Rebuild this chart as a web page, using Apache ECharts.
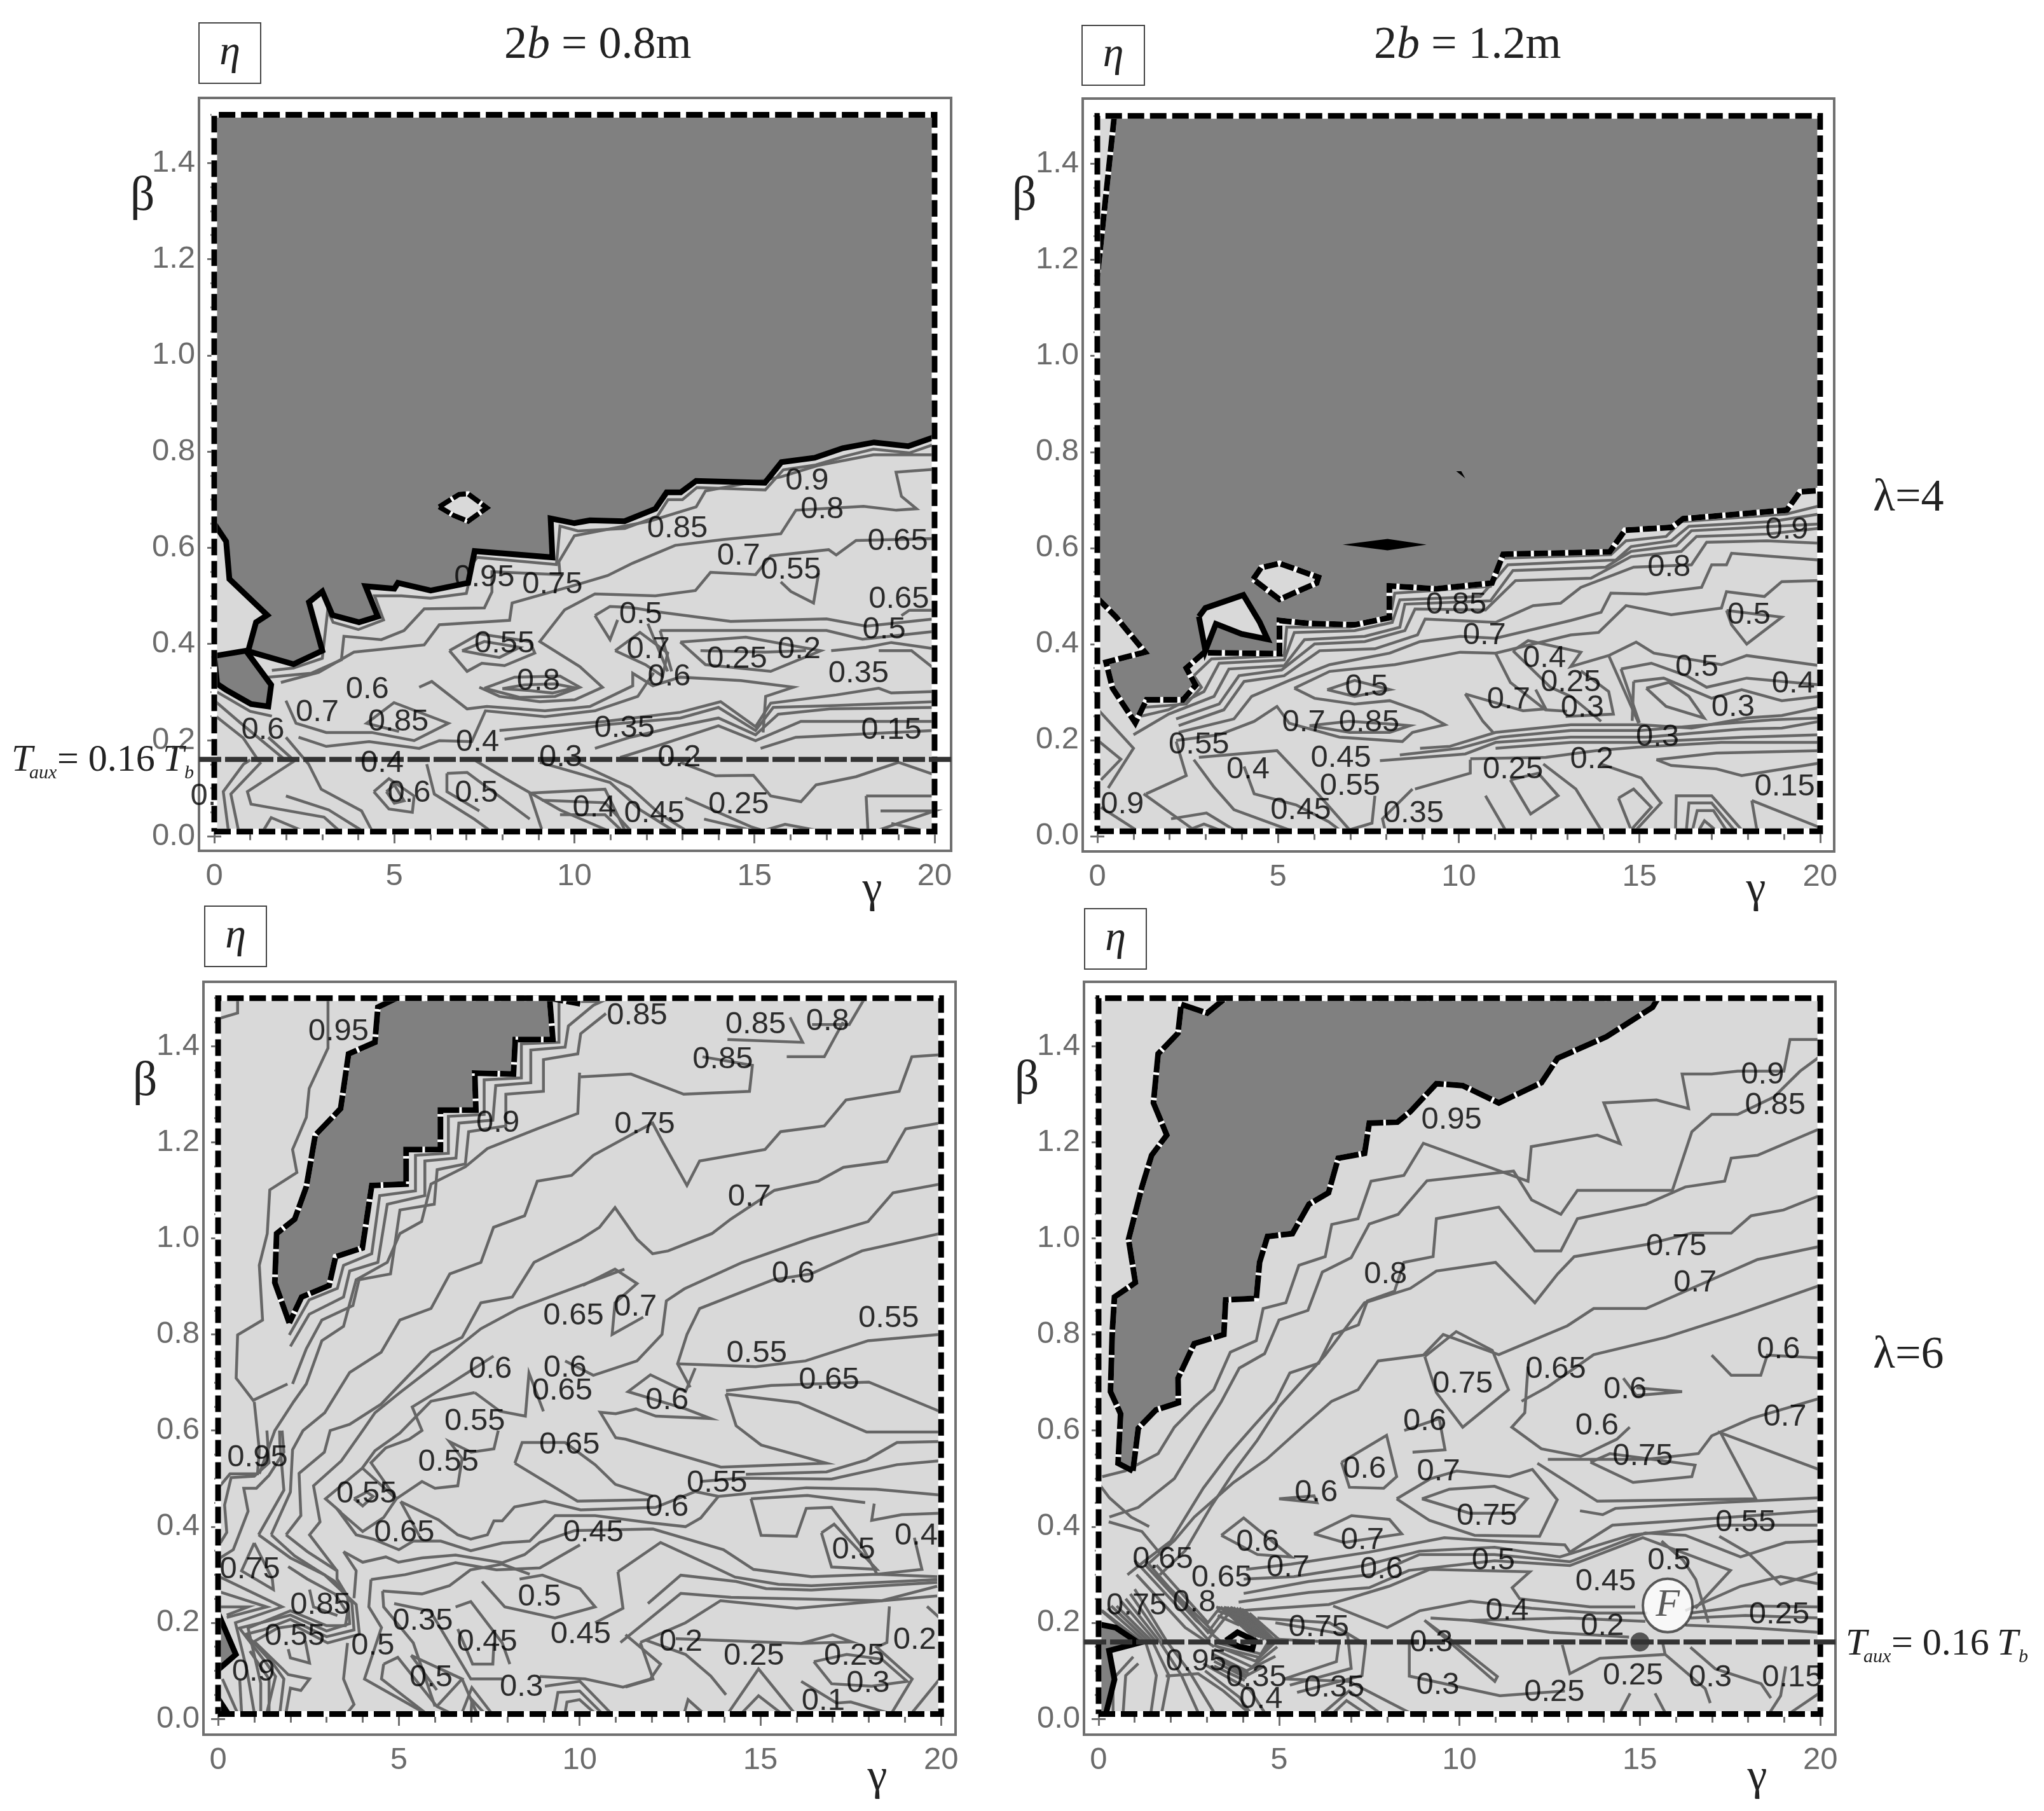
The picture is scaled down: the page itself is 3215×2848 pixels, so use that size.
<!DOCTYPE html>
<html>
<head>
<meta charset="utf-8">
<title>eta contours</title>
<script src="https://cdn.jsdelivr.net/npm/echarts@6/dist/echarts.min.js"></script>
<style>
html,body{margin:0;padding:0;background:#fff}
#main{width:3215px;height:2848px}
</style>
</head>
<body>
<div id="main"></div>
<script>
// axis ticks
const gammaMajor = [0,5,10,15,20];
const gammaMinor = [0,1,2,3,4,5,6,7,8,9,10,11,12,13,14,15,16,17,18,19,20];
const betaMajor = [0,0.2,0.4,0.6,0.8,1.0,1.2,1.4];
const betaMinor = [0,0.05,0.1,0.15,0.2,0.25,0.3,0.35,0.4,0.45,0.5,0.55,0.6,0.65,0.7,0.75,0.8,0.85,0.9,0.95,1,1.05,1.1,1.15,1.2,1.25,1.3,1.35,1.4,1.45,1.5];
const domainBox = [[0,0.01],[20,0.01],[20,1.5],[0,1.5],[0,0.01]];
const tauxLevel = 0.16;
const pointF = [15,0.16];
const labelF = [15.77,0.236];

// 2b=0.8m, lambda=4
const p1Edge = [[0,0.65],[0.33,0.613],[0.42,0.535],[1.47,0.46],[1.16,0.445],[0.94,0.385],[2.2,0.358],[3,0.386],[2.63,0.487],[3,0.509],[3.28,0.46],[4.02,0.445],[4.54,0.457],[4.2,0.52],[5,0.515],[5.1,0.527],[6.01,0.511],[7.05,0.527],[7.23,0.593],[9.39,0.58],[9.34,0.661],[10,0.651],[10.43,0.657],[11.39,0.655],[12.25,0.681],[12.56,0.715],[12.95,0.715],[13.38,0.739],[15.29,0.735],[15.75,0.778],[16.67,0.787],[17.45,0.807],[18.32,0.819],[19.27,0.811],[20,0.83]];
const p1Dark = p1Edge.concat([[20,1.5],[0,1.5]]);
const p1Blob = [[0,0.375],[0.88,0.386],[1.58,0.315],[1.5,0.27],[1.02,0.275],[0.32,0.305],[0.08,0.317]];
const p1Isle = [[6.24,0.685],[6.8,0.711],[7.05,0.712],[7.57,0.683],[7.05,0.655],[6.65,0.667],[6.24,0.685]];
const p1Contours = [
[[1.6,0.345],[2.2,0.35],[3,0.37],[3.15,0.47],[3.3,0.445],[4,0.43],[4.7,0.45],[4.45,0.5],[5.2,0.5],[6,0.495],[7,0.505],[7.2,0.57],[7.3,0.58],[9.5,0.565],[9.6,0.645],[10.1,0.635],[11.4,0.64],[12.3,0.665],[12.6,0.7],[13,0.7],[13.4,0.725],[15.3,0.72],[15.8,0.762],[16.7,0.772],[17.5,0.79],[18.3,0.805],[19.3,0.797],[20,0.815]],
[[1.5,0.331],[2.69,0.339],[3.53,0.367],[3.6,0.416],[4.64,0.409],[5.27,0.428],[5.83,0.473],[7.5,0.475],[7.71,0.508],[7.71,0.55],[9.6,0.544],[9.57,0.571],[10,0.625],[12.08,0.655],[13.38,0.685],[13.64,0.718],[15.72,0.747],[16.76,0.771],[18.3,0.793],[20,0.793]],
[[1.85,0.32],[2.9,0.341],[3.88,0.383],[5.83,0.398],[6.25,0.44],[8.2,0.449],[8.27,0.485],[10.15,0.525],[10.92,0.542],[11.62,0.568],[12.8,0.605],[14.13,0.617],[15.73,0.629],[16.15,0.678],[18.03,0.686],[18.94,0.678],[19.5,0.681],[19.08,0.707],[18.93,0.757],[20,0.763]],
[[20,0.619],[17.82,0.615],[17.27,0.585],[17.06,0.596],[15.45,0.583],[15.03,0.544],[13.78,0.549],[13.36,0.511],[12.25,0.5],[10.57,0.504],[9.73,0.471],[9.04,0.405],[10.15,0.353],[10.78,0.31],[10.01,0.284],[9.04,0.28],[7.92,0.291],[7.36,0.31]],
[[5.69,0.31],[6.04,0.322],[7.02,0.265],[7.57,0.27],[9.18,0.261],[10.43,0.27],[11.62,0.313],[11.62,0.339],[12.18,0.313],[12.94,0.331],[14.62,0.324],[16.08,0.31],[15.31,0.291],[15.24,0.216]],
[[8,0.307],[8.62,0.315],[9.46,0.317],[10,0.309],[9.39,0.298],[8.76,0.303],[8,0.307]],
[[7.5,0.308],[8.34,0.331],[9.6,0.333],[10.15,0.31],[9.46,0.291],[8.48,0.289],[7.5,0.308]],
[[6.53,0.386],[7.36,0.421],[8.76,0.405],[8.9,0.381],[8.06,0.355],[7.43,0.36],[7.02,0.343],[6.53,0.386]],
[[6.88,0.386],[7.5,0.405],[8.48,0.393],[7.92,0.372],[7.36,0.379],[6.88,0.386]],
[[7.92,0.22],[10.85,0.239],[12.94,0.258],[14.06,0.28],[15.03,0.228],[15.45,0.277],[17.27,0.294],[18.45,0.308],[18.8,0.298],[20,0.301]],
[[8.06,0.202],[10.85,0.232],[12.94,0.246],[14,0.268],[15.03,0.22],[15.52,0.268],[17.27,0.272],[20,0.28]],
[[10.57,0.183],[11.55,0.206],[12.94,0.23],[14,0.246],[15.03,0.211],[15.66,0.254],[17.1,0.265],[20,0.268]],
[[11.27,0.164],[12.25,0.187],[14,0.23],[15.03,0.199],[16.29,0.239],[17.13,0.239],[20,0.239]],
[[15.17,0.183],[16.15,0.206],[20,0.22]],
[[12.94,0.154],[13.92,0.126],[14.97,0.127],[15.45,0.084],[16.29,0.072],[16.71,0.107],[17.82,0.124],[19,0.154],[20,0.128]],
[[9.04,0.154],[10.99,0.112],[11.83,0.055],[12.73,0.013]],
[[10.15,0.15],[11.55,0.102],[12.38,0.046],[13.08,0.013]],
[[2.34,0.206],[3.11,0.187],[4.3,0.197],[5.69,0.183],[6.25,0.199],[7.15,0.197],[7.53,0.261],[9.18,0.249],[10.57,0.261],[11.76,0.291],[12.2,0.34]],
[[1.99,0.282],[2.27,0.235],[3.11,0.216],[4.37,0.216],[5.55,0.199],[6.5,0.235],[4.99,0.278],[4.23,0.235],[5.13,0.218]],
[[1.99,0.206],[2.62,0.15],[2.97,0.098],[4.09,0.053],[4.37,0.013]],
[[1.5,0.206],[2.23,0.157],[0.92,0.093],[1.02,0.067],[3.05,0.04],[3.45,0.013]],
[[1.99,0.084],[3.18,0.055],[4.08,0.013]],
[[0.39,0.013],[0.25,0.093],[0.81,0.15],[1,0.159]],
[[0.67,0.013],[0.46,0.088],[1.3,0.154]],
[[1.37,0.013],[1.58,0.039],[2.41,0.013]],
[[0.04,0.25],[0.8,0.205],[1.25,0.155]],
[[0.04,0.28],[0.74,0.235],[2,0.157]],
[[0.08,0.3],[1,0.26],[1.6,0.25]],
[[4.43,0.093],[4.85,0.12],[5.55,0.084],[5.5,0.05],[4.85,0.057],[4.43,0.093]],
[[4.78,0.093],[5,0.107],[5.27,0.074],[5,0.069],[4.78,0.093]],
[[5.9,0.15],[6.11,0.088],[7.22,0.036],[7.64,0.013]],
[[6.46,0.131],[7.02,0.133],[8.76,0.036]],
[[6.46,0.131],[6.46,0.093],[7.36,0.053]],
[[7.22,0.159],[8.06,0.121],[9.6,0.055],[10.9,0.013]],
[[8.76,0.09],[10.85,0.098],[11.4,0.013]],
[[9.1,0.013],[8.76,0.09]],
[[9.1,0.075],[10.85,0.07],[11.55,0.013]],
[[9.6,0.045],[10.85,0.045],[11.3,0.013]],
[[13.08,0.08],[14.9,0.02],[15.2,0.013]],
[[13.6,0.036],[14.9,0.013]],
[[15.3,0.013],[15.85,0.025],[16.7,0.013]],
[[18.1,0.084],[20,0.084]],
[[18.1,0.084],[18.15,0.013]],
[[18.5,0.053],[20,0.053],[18.45,0.013]],
[[18.8,0.027],[19.64,0.013]],
[[12.38,0.466],[14.34,0.447],[17,0.452],[18.1,0.437],[20,0.452]],
[[12.38,0.428],[14.34,0.428],[17,0.428],[18,0.41],[20,0.426]],
[[12.94,0.404],[14.76,0.414],[16.84,0.386],[15.45,0.343],[13.64,0.357],[12.94,0.404]],
[[13.5,0.386],[15.3,0.383],[16.43,0.386]],
[[17.13,0.386],[18.1,0.393],[18.8,0.403],[20,0.39]],
[[18.45,0.386],[19.36,0.386],[20,0.348]],
[[11.13,0.386],[11.82,0.424],[12.59,0.381],[12.45,0.333],[11.97,0.357],[11.13,0.386]],
[[10.57,0.459],[10.99,0.478],[11.55,0.476],[12.38,0.466]],
[[10.57,0.459],[10.99,0.409],[11.2,0.45]],
[[12.04,0.442],[12.59,0.343]],
[[12.38,0.428],[12.7,0.343]],
[[15.73,0.529],[16.01,0.509],[16.64,0.485],[16.78,0.547]],
[[19.08,0.459],[19.3,0.47],[20,0.47]]
];
const p1Labels = [[16.46,0.739,'0.9'],[16.88,0.679,'0.8'],[12.86,0.64,'0.85'],[18.98,0.613,'0.65'],[14.56,0.583,'0.7'],[16.01,0.553,'0.55'],[7.5,0.538,'0.95'],[9.39,0.523,'0.75'],[19.01,0.493,'0.65'],[11.84,0.461,'0.5'],[18.6,0.43,'0.5'],[8.06,0.4,'0.55'],[12.05,0.388,'0.7'],[14.51,0.368,'0.25'],[16.24,0.389,'0.2'],[17.89,0.338,'0.35'],[12.63,0.332,'0.6'],[9,0.322,'0.8'],[4.25,0.305,'0.6'],[2.86,0.257,'0.7'],[5.11,0.238,'0.85'],[1.35,0.22,'0.6'],[11.39,0.224,'0.35'],[18.8,0.22,'0.15'],[7.31,0.196,'0.4'],[9.62,0.164,'0.3'],[12.91,0.164,'0.2'],[4.66,0.152,'0.4'],[5.41,0.089,'0.6'],[7.28,0.089,'0.5'],[14.56,0.066,'0.25'],[10.55,0.059,'0.4'],[12.22,0.047,'0.45'],[-0.3,0.083,'0.']];

// 2b=1.2m, lambda=4
const p2Edge = [[0,0.496],[0.51,0.457],[1.32,0.383],[0.24,0.362],[0.42,0.308],[1.05,0.236],[1.36,0.284],[2.37,0.284],[2.72,0.314],[2.46,0.35],[2.95,0.382],[5.04,0.38],[5.04,0.449],[5.85,0.443],[7.12,0.44],[8.08,0.455],[8.08,0.521],[9.38,0.515],[10.92,0.527],[11.23,0.587],[14.18,0.592],[14.6,0.637],[15.9,0.643],[16.21,0.661],[19.08,0.679],[19.44,0.717],[20,0.72]];
const p2Dark = p2Edge.concat([[20,1.5],[0.47,1.5],[0,1.165]]);
const p2Sliver = [[0.47,1.5],[0,1.165]];
const p2IsleA = [[4.31,0.535],[4.53,0.559],[5.04,0.568],[6.12,0.539],[6.07,0.527],[5.04,0.493],[4.31,0.535]];
const p2IsleB = [[2.81,0.457],[2.99,0.475],[4.04,0.502],[4.49,0.446],[4.71,0.41],[3.99,0.421],[3.28,0.442],[2.99,0.386],[2.81,0.457]];
const p2SpotA = [[6.79,0.607],[8.03,0.619],[9.11,0.607],[8.03,0.595]];
const p2SpotB = [[9.93,0.76],[10.07,0.76],[10.18,0.745]];
const p2Contours = [
[[1.28,0.268],[2.46,0.275],[2.88,0.31],[2.67,0.334],[3.16,0.369],[5.17,0.376],[5.24,0.435],[6.98,0.435],[8.09,0.452],[8.23,0.506],[9.21,0.511],[10.88,0.52],[11.22,0.579],[14.21,0.586],[14.63,0.615],[15.74,0.624],[16.16,0.655],[19.08,0.671],[19.99,0.688]],
[[1,0.246],[1.97,0.263],[2.95,0.301],[3.37,0.36],[5.17,0.367],[5.45,0.424],[7.12,0.428],[8.16,0.445],[8.37,0.492],[10.6,0.499],[11.36,0.565],[14.35,0.575],[14.77,0.603],[15.88,0.615],[16.37,0.645],[18.66,0.655],[19.99,0.671]],
[[1,0.211],[1.97,0.254],[3.23,0.291],[3.64,0.348],[5.17,0.355],[5.73,0.409],[7.4,0.416],[8.37,0.435],[8.51,0.483],[10.88,0.49],[11.5,0.553],[14.07,0.56],[14.77,0.593],[16.02,0.605],[16.44,0.636],[19.99,0.65]],
[[2.18,0.244],[3.37,0.275],[3.92,0.334],[5.1,0.346],[6.01,0.4],[7.4,0.405],[8.51,0.428],[8.79,0.473],[10.74,0.471],[11.57,0.532],[13.66,0.537],[14.77,0.582],[16.16,0.593],[16.58,0.624],[18.53,0.629],[19.99,0.641]],
[[2.25,0.23],[3.5,0.263],[4.06,0.322],[5.17,0.334],[6.15,0.386],[7.68,0.39],[8.86,0.419],[9.07,0.452],[11.02,0.445],[12.06,0.48],[12.82,0.485],[13.38,0.518],[14.84,0.56],[16.44,0.565],[16.86,0.612],[18.53,0.615],[19.99,0.61]],
[[2.25,0.216],[3.78,0.244],[4.27,0.291],[5.31,0.324],[6.43,0.357],[8.09,0.381],[8.93,0.405],[10.04,0.416],[11.02,0.412],[13.1,0.449],[13.94,0.466],[14.21,0.506],[15.19,0.504],[16.72,0.518],[17,0.565],[17.41,0.565],[17.55,0.589],[18.39,0.584],[19.99,0.575]],
[[5.45,0.308],[6.43,0.343],[8.23,0.357],[10.04,0.383],[11.02,0.381],[13.1,0.419],[13.87,0.424],[14.63,0.48],[15.88,0.461],[17.27,0.475],[17.41,0.509],[18.46,0.499],[18.94,0.53],[19.99,0.532]],
[[5.45,0.308],[6.01,0.287],[7.12,0.275],[8.09,0.282],[9,0.258],[9.62,0.232],[8.72,0.216],[8.44,0.197],[6.7,0.206],[5.31,0.235],[4.97,0.27],[4.34,0.239],[3.37,0.211],[2.18,0.199]],
[[6.36,0.305],[7.12,0.324],[8.09,0.305],[7.12,0.291],[6.36,0.305]],
[[5.87,0.23],[6.98,0.239],[8.37,0.232],[8.65,0.23],[8.09,0.216],[6.98,0.216],[5.87,0.23]],
[[10.18,0.296],[10.67,0.239],[10.95,0.216]],
[[8.93,0.183],[9.76,0.187],[11.02,0.216],[13.1,0.232],[15.05,0.232],[16.44,0.225],[17.97,0.246],[18.94,0.251],[19.99,0.268]],
[[8.37,0.169],[10.04,0.183],[11.15,0.206],[13.1,0.22],[15.05,0.22],[16.58,0.23],[18.66,0.242],[19.99,0.246]],
[[7.82,0.157],[10.18,0.171],[11.02,0.195],[13.1,0.206],[15.19,0.206],[17.83,0.223],[18.94,0.225],[19.99,0.239]],
[[11.02,0.183],[13.1,0.195],[14.91,0.195],[17.97,0.206],[19.99,0.211]],
[[10.32,0.161],[12.41,0.164],[13.8,0.178],[14.91,0.185],[17.27,0.195],[19.99,0.195]],
[[15.47,0.159],[17.13,0.173],[19.99,0.178]],
[[15.47,0.159],[15.88,0.147],[17.13,0.14],[17.83,0.126],[19.99,0.152]],
[[14.15,0.376],[14.91,0.404],[15.4,0.381],[17.27,0.357],[17.97,0.376],[19.99,0.355]],
[[14.15,0.376],[14.98,0.235]],
[[14.49,0.348],[15.33,0.36],[16.3,0.334],[16.86,0.31],[17.97,0.329],[19.99,0.315]],
[[14.49,0.348],[15,0.236]],
[[14.84,0.322],[15.67,0.329],[17,0.287],[17.83,0.305],[18.94,0.282],[19.99,0.291]],
[[14.84,0.322],[14.8,0.24]],
[[15.19,0.308],[15.81,0.32],[16.37,0.291],[16.79,0.246],[15.74,0.27],[15.19,0.308]],
[[17.41,0.47],[18.94,0.456],[17.97,0.4],[17.55,0.44],[17.41,0.47]],
[[11.5,0.386],[11.92,0.407],[13.38,0.383],[13.1,0.353],[14.15,0.376]],
[[11.5,0.386],[12.54,0.31],[13.1,0.291],[13.94,0.239]],
[[11.02,0.381],[11.43,0.32],[12.4,0.263],[13,0.26]],
[[10.18,0.296],[11.78,0.261],[12.41,0.265],[12.13,0.305]],
[[13.38,0.344],[14.15,0.301],[14.28,0.254],[12.96,0.249]],
[[0,0.2],[0.65,0.16],[0.1,0.117]],
[[0,0.265],[1,0.183],[0.3,0.1]],
[[0.1,0.06],[1.07,0.013]],
[[1.28,0.088],[2.67,0.013]],
[[2.18,0.197],[2.46,0.126],[1.35,0.088]],
[[2.67,0.159],[3.23,0.102],[3.78,0.055],[5.31,0.013]],
[[2.04,0.036],[3.02,0.048],[3.78,0.013]],
[[2.53,0.013],[2.95,0.025],[3.37,0.013]],
[[2.81,0.164],[4.97,0.178],[6.15,0.084],[6.98,0.013]],
[[4.06,0.145],[4.34,0.088],[5.5,0.065],[6.4,0.03],[6.7,0.013]],
[[7.68,0.084],[7.6,0.027],[6.98,0.013]],
[[8.72,0.098],[7.89,0.036],[7.96,0.013]],
[[8.79,0.098],[10.32,0.131],[10.32,0.159]],
[[10.74,0.084],[11.29,0.013]],
[[11.43,0.117],[11.99,0.046],[12.75,0.084],[12.2,0.131],[11.43,0.117]],
[[12.34,0.15],[13.24,0.098],[13.94,0.013]],
[[13.94,0.15],[15.05,0.121],[15.6,0.069],[14.91,0.013]],
[[14.42,0.079],[14.84,0.098],[15.33,0.06],[14.77,0.013],[14.42,0.079]],
[[16,0.013],[16.02,0.084],[17,0.084],[17.83,0.013]],
[[16.3,0.013],[16.37,0.069],[17,0.069],[17.62,0.013]],
[[16.47,0.013],[16.6,0.053],[17.05,0.053],[17.4,0.013]],
[[16.65,0.013],[16.8,0.032],[17.1,0.013]],
[[18.11,0.074],[19.99,0.018]],
[[18.11,0.074],[18.25,0.013]]
];
const p2Labels = [[19.08,0.637,'0.9'],[15.82,0.559,'0.8'],[9.93,0.481,'0.85'],[10.71,0.418,'0.7'],[18.03,0.46,'0.5'],[12.37,0.37,'0.4'],[16.59,0.352,'0.5'],[13.1,0.32,'0.25'],[19.26,0.317,'0.4'],[7.45,0.311,'0.5'],[11.38,0.284,'0.7'],[13.42,0.266,'0.3'],[17.59,0.268,'0.3'],[5.71,0.236,'0.7'],[7.52,0.236,'0.85'],[15.5,0.206,'0.3'],[2.81,0.19,'0.55'],[6.74,0.162,'0.45'],[13.68,0.16,'0.2'],[11.5,0.138,'0.25'],[4.17,0.138,'0.4'],[6.99,0.104,'0.55'],[19.02,0.102,'0.15'],[0.69,0.065,'0.9'],[5.63,0.054,'0.45'],[8.75,0.047,'0.35']];

// 2b=0.8m, lambda=6
const p3Dark = [[1.97,0.824],[1.57,0.908],[1.62,1.01],[2.12,1.04],[2.44,1.107],[2.69,1.215],[3.39,1.27],[3.61,1.384],[4.34,1.408],[4.42,1.481],[4.94,1.5],[9.17,1.5],[9.26,1.414],[8.22,1.414],[8.17,1.342],[7.1,1.344],[7.13,1.267],[6.15,1.267],[6.15,1.185],[5.2,1.185],[5.2,1.113],[4.25,1.11],[3.99,0.98],[3.25,0.962],[3.07,0.902],[2.31,0.878],[1.97,0.824]];
const p3Spur = [[9.17,1.5],[10.03,1.488]];
const p3CornerA = [[0,0.22],[0.49,0.134],[0.03,0.104],[0,0.104]];
const p3CornerB = [[0,0.053],[0.35,0.013],[0,0.013]];
const p3Contours = [
[[1.97,0.799],[2.52,0.872],[3.3,0.896],[3.47,0.944],[4.25,0.968],[4.47,1.089],[5.46,1.099],[5.46,1.173],[6.37,1.177],[6.37,1.254],[7.36,1.258],[7.36,1.33],[8.39,1.334],[8.39,1.405],[9.43,1.408],[9.43,1.493],[10.55,1.493]],
[[2,0.775],[2.52,0.842],[3.47,0.878],[3.64,0.932],[4.42,0.95],[4.68,1.071],[5.72,1.089],[5.72,1.161],[6.58,1.167],[6.66,1.24],[7.6,1.246],[7.68,1.318],[8.65,1.324],[8.65,1.392],[9.6,1.398],[9.69,1.442],[10.38,1.485],[10.81,1.5]],
[[2.06,0.697],[2.44,0.77],[2.87,0.83],[3.73,0.86],[3.9,0.914],[4.77,0.926],[5.03,1.059],[5.98,1.071],[6.06,1.143],[6.84,1.155],[6.93,1.222],[7.96,1.234],[7.96,1.3],[9,1.306],[9,1.372],[9.95,1.384],[10.03,1.426],[10.73,1.468]],
[[3.04,1.5],[3.04,1.396],[2.52,1.312],[2.44,1.252],[2.06,1.185],[2.18,1.137],[1.43,1.101],[1.36,1.01],[1.14,0.944],[1.23,0.83],[0.54,0.799],[0.5,0.709],[0.97,0.663],[1.92,0.697]],
[[0,1.457],[0.54,1.469],[0.54,1.5]],
[[19.97,1.382],[19.19,1.378],[18.84,1.306],[17.37,1.288],[16.77,1.234],[15.56,1.222],[15.13,1.185],[13.32,1.161],[12.97,1.11],[12.28,1.203],[12.02,1.24],[10.38,1.173],[9.78,1.131],[8.83,1.119],[8.48,1.047],[7.62,1.023],[7.27,0.95],[6.41,0.926],[5.89,0.854],[5.03,0.83],[4.51,0.763],[3.64,0.721],[2.95,0.637],[2.35,0.6],[2.06,0.56],[2,0.472],[1.47,0.383]],
[[19.97,1.24],[19.02,1.228],[18.5,1.16],[17.3,1.148],[16.6,1.119],[15.39,1.1],[14.18,1.04],[13.66,1.01],[12.45,0.974],[12.02,0.968],[11.59,0.998],[10.98,1.064],[10.55,1.023],[10.03,0.998],[8.74,0.95],[8.14,0.878],[7.27,0.866],[6.75,0.794],[5.89,0.763],[5.2,0.709],[4.51,0.655],[3.64,0.613],[3.1,0.6],[2.94,0.555],[2.24,0.511],[2.29,0.423],[1.88,0.383]],
[[19.97,1.113],[18.67,1.095],[17.98,1.035],[16.4,1.0],[14.5,0.95],[12.9,0.895],[12.4,0.87],[12.28,0.8],[11.59,0.745],[10.38,0.715],[9.6,0.745]],
[[19.97,1.01],[17.81,0.974],[16.4,0.926],[15.36,0.914],[13.32,0.854],[12.97,0.8],[12.71,0.739],[13.06,0.69]],
[[12.71,0.739],[14.87,0.733],[16.25,0.745],[17.98,0.787],[19.97,0.8]],
[[10.09,0.902],[10.98,0.936],[11.59,0.906],[10.98,0.866],[10.9,0.8],[11.76,0.836]],
[[11.24,0.936],[10.03,0.902],[9.17,0.878],[8.31,0.854],[7.27,0.812],[6.06,0.739],[5.03,0.679],[4.34,0.637],[4,0.6],[3.41,0.537],[2.64,0.485],[2.82,0.41],[2.53,0.383],[3.29,0.308]],
[[7.62,0.755],[6.41,0.697],[5.37,0.649],[5.64,0.6],[5.29,0.582],[4.64,0.564],[4.23,0.533],[4.93,0.458],[5.64,0.494],[6,0.48],[6.63,0.485],[6.75,0.542],[6.4,0.577],[7,0.555],[7.63,0.562],[7.75,0.6]],
[[7.1,0.679],[5.89,0.661],[5.03,0.595],[4.34,0.558],[3.99,0.522],[2.97,0.458],[3.4,0.43]],
[[7.1,0.679],[7.8,0.64],[8.5,0.63],[8.6,0.72],[9,0.64]],
[[3.76,0.458],[4,0.443],[4.29,0.463],[4.11,0.472],[3.76,0.458]],
[[3.99,0.522],[4.93,0.458],[4.58,0.419],[4,0.39],[3.32,0.434],[3.82,0.383],[4.29,0.374],[5,0.352],[5.4,0.37],[6.16,0.37],[6.99,0.35],[7.86,0.366],[8.62,0.37],[9.32,0.423],[10.43,0.423],[11.96,0.408],[12.93,0.4],[13.35,0.418],[13.84,0.463]],
[[5.05,0.452],[6.1,0.414],[6.63,0.383],[6.99,0.374],[7.45,0.383],[7.63,0.412],[7.86,0.412],[8.2,0.441],[9.04,0.453],[10.03,0.435],[12.1,0.44],[13.2,0.473],[13.84,0.463],[16.27,0.481],[18.2,0.478],[19.96,0.466]],
[[5.05,0.452],[5.58,0.379]],
[[8.21,0.532],[9.94,0.453],[11.89,0.456]],
[[8.21,0.532],[8.41,0.575],[9.6,0.575],[10.43,0.529],[10.99,0.488],[12.03,0.463]],
[[13.35,0.494],[14.46,0.501],[16.97,0.499],[18.78,0.529],[19.96,0.537]],
[[3.47,0.348],[4,0.326],[4.64,0.337],[4.99,0.326],[5.64,0.335],[6.57,0.341],[7.86,0.325],[8.48,0.342],[8.9,0.367],[9.87,0.392],[12.03,0.395],[13.98,0.352],[14.81,0.311],[16.41,0.296],[18.22,0.301],[19.89,0.296]],
[[4.23,0.29],[5.17,0.3],[5.93,0.313],[6.57,0.325],[7.7,0.31],[8.9,0.314],[10.01,0.362]],
[[11.06,0.306],[12.24,0.367],[13.6,0.32],[14.3,0.295],[15.5,0.28],[16.41,0.277],[19.89,0.29]],
[[11.06,0.306],[11.2,0.23],[10.43,0.2]],
[[4.55,0.266],[5.64,0.26],[6.4,0.277],[6.98,0.31],[7.86,0.322],[8.62,0.301]],
[[11.89,0.24],[12.8,0.299],[14.33,0.286],[15.16,0.271],[16.41,0.268],[19.89,0.284]],
[[11.13,0.159],[12.8,0.261],[14.19,0.253],[15.3,0.251],[18.36,0.246],[19.89,0.276]],
[[11.68,0.159],[12.93,0.2],[13.9,0.246],[16,0.23],[19.89,0.256]],
[[12.66,0.167],[16.13,0.157],[17.53,0.16],[17,0.175],[16.13,0.157]],
[[11.68,0.159],[12.03,0.083],[11.27,0.066]],
[[3.47,0.348],[3.82,0.308],[3.76,0.251]],
[[1.12,0.383],[2,0.335],[2.94,0.3],[3.82,0.238],[3.91,0.176],[3.03,0.158],[2.12,0.194],[1.65,0.189],[1,0.161],[1.77,0.105],[1.94,0.092],[2.53,0.083],[2.29,0.059],[2,0.064],[1.88,0.013]],
[[1.47,0.383],[2.12,0.339],[3.23,0.286],[3.7,0.242],[3.76,0.185],[3,0.171],[2,0.207],[1.24,0.185],[0.77,0.176],[1.53,0.114],[1.82,0.083],[1.71,0.013]],
[[1.88,0.383],[2.47,0.348],[3.29,0.308],[3.29,0.291],[3.58,0.255],[3.64,0.198],[3,0.183],[2,0.216],[1.3,0.202],[0.59,0.189],[1.35,0.114],[1.59,0.088],[1.35,0.013]],
[[1.94,0.317],[2.47,0.291],[3.23,0.26],[3.58,0.22],[3.52,0.194],[3,0.194],[2,0.225],[0.83,0.189],[1.18,0.074],[1.18,0.013]],
[[0.06,0.295],[1.77,0.233],[0.48,0.2],[0.8,0.1],[1,0.013]],
[[0.06,0.264],[1.35,0.233],[0.24,0.211]],
[[0.06,0.233],[0.83,0.233],[0.24,0.216]],
[[1,0.366],[0.65,0.308],[1.53,0.269],[1.5,0.291],[1,0.366]],
[[2.53,0.269],[2.64,0.233],[3.3,0.215]],
[[0.06,0.366],[0.24,0.388],[0.18,0.445],[0.36,0.502],[1,0.505],[1.41,0.533],[1.35,0.6]],
[[0.06,0.335],[0.42,0.352],[0.83,0.432],[0.71,0.48],[1.06,0.48],[1.41,0.507],[1.82,0.555],[1.77,0.6]],
[[1.12,0.383],[1.82,0.476],[1.71,0.573],[1.7,0.6]],
[[0.12,0.083],[0.53,0.013]],
[[0.6,0.08],[0.65,0.013]],
[[1.41,0.013],[1.41,0.083],[0.88,0.141]],
[[1.94,0.145],[2,0.127],[2.53,0.116],[2.41,0.163]],
[[4.23,0.29],[4.17,0.233],[4.52,0.19],[4.05,0.083],[5.81,0.008]],
[[4.55,0.266],[4.58,0.233],[5.4,0.158],[6,0.026]],
[[3.58,0.158],[3.47,0.083],[3.76,0.03],[3.58,0.013]],
[[4.87,0.24],[5.87,0.224],[6.99,0.083],[7.86,0.083]],
[[4.58,0.114],[4.52,0.083],[5.81,0.008]],
[[4.58,0.114],[4.97,0.128],[6.05,0.026],[6.4,0.013]],
[[5.34,0.132],[6.75,0.083],[6.05,0.026]],
[[5.34,0.132],[6.05,0.06]],
[[6.75,0.013],[7.02,0.065],[7.55,0.013]],
[[6.75,0.083],[7.15,0.013]],
[[7,0.013],[7.02,0.04],[7.35,0.013]],
[[6.57,0.233],[6.99,0.244],[7.86,0.158],[8.07,0.114]],
[[6.63,0.187],[7.04,0.114],[7.6,0.114],[7.63,0.158]],
[[7.3,0.286],[7.93,0.233],[9.32,0.21],[10.43,0.233],[10.01,0.271],[8.97,0.299],[8.34,0.291]],
[[11.27,0.175],[12.24,0.114],[11.96,0.083],[11.2,0.066],[10.15,0.083],[8.9,0.088]],
[[11.82,0.164],[12.93,0.134],[13.63,0.089],[14.05,0.05]],
[[9.04,0.068],[10.01,0.078],[10.85,0.013]],
[[9.3,0.013],[9.4,0.055],[10,0.058],[10.6,0.013]],
[[9.6,0.013],[9.65,0.035],[10,0.04],[10.4,0.013]],
[[14.12,0.013],[14.95,0.104],[15.93,0.013]],
[[14.5,0.013],[14.95,0.048],[15.55,0.013]],
[[12.9,0.013],[13,0.04],[13.4,0.013]],
[[16.13,0.078],[17.11,0.033],[17.5,0.035],[18.5,0.013]],
[[16.48,0.119],[16.97,0.073],[18.08,0.068],[19.06,0.078],[18.36,0.124],[17.39,0.134],[16.48,0.119]],
[[18.57,0.234],[18.5,0.159],[18.22,0.149],[19.2,0.083],[18.64,0.013]],
[[19.61,0.234],[19.96,0.21]],
[[19.2,0.013],[19.96,0.083]],
[[14.74,0.458],[15.02,0.382],[16,0.38],[16.27,0.438],[16.97,0.44],[17.84,0.355],[18.22,0.302]],
[[14.74,0.458],[16.3,0.465],[17.9,0.45]],
[[16.69,0.387],[17.04,0.405],[18.22,0.311],[16.97,0.316],[16.69,0.387]],
[[18.15,0.448],[18.08,0.413],[18.91,0.425],[19.96,0.428]],
[[19.26,0.377],[19.47,0.311],[18.22,0.301]],
[[14.05,0.676],[16.06,0.658],[17.94,0.597],[19.96,0.597]],
[[14.05,0.676],[14.33,0.61],[15.02,0.57],[16.83,0.532],[13.91,0.524],[11.27,0.582],[11,0.585],[10.57,0.638],[11,0.635],[11.56,0.645],[12.11,0.63],[13.63,0.625],[12.93,0.645],[11.34,0.681],[11.96,0.716],[12.93,0.681],[13.2,0.73]],
[[14.05,0.683],[15.3,0.694],[18,0.701],[19.96,0.64]],
[[19.96,0.577],[18.78,0.575],[17.94,0.539],[16.83,0.514],[14.6,0.509]],
[[14.09,1.414],[16.17,1.408],[15.82,1.46]],
[[16.43,1.445],[17.46,1.445],[17.89,1.5]],
[[15.73,1.378],[16.77,1.378],[17.29,1.45]],
[[10.03,1.336],[11.42,1.342],[12.88,1.3],[14.7,1.306],[14.78,1.36],[13.4,1.378]],
[[10,1.345],[9.95,1.26],[8.83,1.228],[7.45,1.187],[6.84,1.149],[5.89,1.113],[5.63,1.035],[5.03,1.01],[4.68,0.95],[3.82,0.914],[3.47,0.817],[2.87,0.787],[2.44,0.697],[2.09,0.66],[1.57,0.6],[1.14,0.51]],
[[0,0.48],[0.33,0.51],[1.09,0.51],[1.14,0.56],[1,0.66]]
];
const p3Labels = [[11.59,1.463,'0.85'],[14.87,1.445,'0.85'],[16.86,1.451,'0.8'],[3.33,1.43,'0.95'],[13.96,1.372,'0.85'],[7.74,1.24,'0.9'],[11.8,1.237,'0.75'],[14.7,1.086,'0.7'],[15.91,0.926,'0.6'],[11.54,0.857,'0.7'],[9.83,0.839,'0.65'],[18.55,0.833,'0.55'],[7.53,0.727,'0.6'],[9.6,0.73,'0.6'],[14.9,0.76,'0.55'],[16.9,0.705,'0.65'],[9.52,0.683,'0.65'],[12.42,0.663,'0.6'],[7.1,0.619,'0.55'],[9.72,0.57,'0.65'],[1.09,0.543,'0.95'],[6.37,0.534,'0.55'],[13.8,0.49,'0.55'],[4.11,0.468,'0.55'],[12.42,0.44,'0.6'],[5.15,0.387,'0.65'],[10.38,0.387,'0.45'],[19.31,0.381,'0.4'],[17.58,0.351,'0.5'],[0.88,0.311,'0.75'],[8.89,0.254,'0.5'],[2.83,0.236,'0.85'],[5.66,0.203,'0.35'],[2.12,0.172,'0.55'],[12.8,0.16,'0.2'],[10.03,0.175,'0.45'],[7.44,0.16,'0.45'],[19.27,0.163,'0.2'],[4.28,0.151,'0.5'],[14.82,0.13,'0.25'],[17.6,0.13,'0.25'],[0.98,0.098,'0.9'],[5.89,0.086,'0.5'],[17.98,0.074,'0.3'],[8.39,0.066,'0.3'],[16.74,0.037,'0.1']];

// 2b=1.2m, lambda=6
const p4Dark = [[0.95,0.516],[0.54,0.532],[0.61,0.635],[0.33,0.681],[0.38,0.806],[0.44,0.878],[1.02,0.908],[0.83,0.998],[1.2,1.107],[1.47,1.173],[1.89,1.215],[1.52,1.282],[1.65,1.384],[2.2,1.427],[2.29,1.487],[3.01,1.469],[3.52,1.5],[15.5,1.5],[15.35,1.481],[14.08,1.42],[12.72,1.375],[12.27,1.324],[11.09,1.282],[10.09,1.318],[9.36,1.322],[8.64,1.264],[8.28,1.242],[7.5,1.24],[7.37,1.177],[6.64,1.167],[6.37,1.095],[5.83,1.071],[5.37,1.01],[4.68,1.004],[4.46,0.95],[4.37,0.875],[3.52,0.872],[3.47,0.8],[2.65,0.781],[2.2,0.709],[2.21,0.658],[1.59,0.643],[1.1,0.605],[0.95,0.516]];
const p4Corner = [[0,0.197],[0.47,0.19],[1.11,0.158],[0.29,0.142],[0.44,0.082],[0.2,0.01],[0,0.01]];
const p4Ring = [[3.53,0.163],[3.85,0.18],[4.32,0.163],[4.26,0.145],[3.91,0.15],[3.53,0.163]];
const p4Contours = [
[[19.98,1.414],[19.16,1.414],[18.99,1.348],[17.71,1.348],[16.99,1.342],[16.17,1.342],[16.35,1.27],[15.46,1.288],[14,1.282],[14.45,1.197],[13.82,1.215],[11.99,1.191],[11.9,1.119],[9,1.198],[8.46,1.131],[7.55,1.119],[7.19,1.041],[6.46,1.029],[6.28,0.962],[5.55,0.944],[5.19,0.866],[4.56,0.854],[4.37,0.787],[3.65,0.763],[3.19,0.685],[2.65,0.649],[2.1,0.607],[1.65,0.552],[0.74,0.516],[0.1,0.504]],
[[19.98,1.378],[19.44,1.348],[18.71,1.294],[17.71,1.258],[16.99,1.258],[16.44,1.222],[15.9,1.1],[13.27,1.1],[12.81,1.05],[12,1.08],[11.5,1.14],[9.1,1.12],[8.3,1.05],[7.5,1.03],[7,0.96],[6.2,0.93],[5.8,0.85],[5,0.83],[4.6,0.76],[3.9,0.73],[3.4,0.66],[2.9,0.6],[2.1,0.5],[1.1,0.44],[0.3,0.42]],
[[19.98,1.228],[18.26,1.173],[17.53,1.167],[17.35,1.119],[16.26,1.107],[15.17,1.071],[13.27,1.041],[12.81,0.974],[12.09,0.974],[11.09,1.065],[9.36,1.041],[9.27,0.962],[8.46,0.95],[8.2,0.89],[7.45,0.87],[7.2,0.82],[6.5,0.8],[6.1,0.74],[5.3,0.72],[4.9,0.66],[4.3,0.61],[3.6,0.55],[2.9,0.48],[2,0.37],[1.3,0.33],[0.8,0.3]],
[[19.98,1.089],[18.98,1.059],[18.08,1.047],[17.53,1.011],[16.44,1.011],[15.17,0.987],[13.18,0.962],[12.72,0.926],[12.09,0.866],[11,0.95],[9.36,0.932],[8.64,0.896],[7.37,0.866],[6.82,0.811],[6.28,0.757],[5.6,0.7],[5,0.65],[4.4,0.58],[3.8,0.52],[3.1,0.44],[2.4,0.35],[1.7,0.3]],
[[19.98,0.983],[18.26,0.956],[16.44,0.896],[15.17,0.854],[13.72,0.854],[12.99,0.818],[11.09,0.758],[9.55,0.8],[9,0.757],[7.75,0.745],[7.19,0.685],[6.46,0.661],[5.73,0.613],[4.65,0.54],[3.74,0.492],[2.65,0.42],[2.1,0.371],[1.38,0.323]],
[[19.98,0.902],[17.71,0.842],[15.72,0.794],[13.72,0.758],[12.45,0.691],[11.72,0.661]],
[[9.04,0.754],[9.91,0.806],[10.91,0.767],[11.36,0.685],[10.09,0.607],[9.36,0.679],[9.04,0.754]],
[[11.9,0.733],[11.81,0.637],[11.45,0.607],[12.27,0.562],[13.36,0.546],[14.36,0.582],[14.72,0.607]],
[[16.99,0.757],[17.53,0.715],[18.35,0.715],[18.53,0.757],[19.98,0.751]],
[[14.9,0.689],[16.17,0.681],[14.9,0.673],[14.54,0.709]],
[[19.98,0.667],[18.08,0.625],[16.99,0.589],[16.62,0.552],[15.17,0.54],[12.45,0.54]],
[[12.16,0.532],[13.82,0.453],[18.21,0.458],[17.24,0.595],[19.96,0.519]],
[[13.63,0.534],[14.17,0.552],[16.53,0.528],[16.44,0.504],[14.81,0.492],[13.63,0.534]],
[[8.96,0.458],[9.72,0.478],[10.97,0.484],[11.88,0.458],[11.53,0.428],[10.28,0.428],[8.96,0.458]],
[[8.26,0.458],[9.17,0.413],[10.42,0.382],[12.22,0.38],[12.71,0.456],[12.02,0.519],[11.39,0.504],[9.93,0.516],[9.2,0.5],[8.26,0.458]],
[[5.97,0.385],[7.01,0.423],[8.06,0.415],[8.4,0.385],[6.8,0.367],[5.97,0.385]],
[[3.4,0.382],[4.02,0.418],[5.34,0.337],[4.4,0.342],[3.4,0.382]],
[[5,0.458],[5.97,0.464],[6.05,0.45],[5,0.458]],
[[6.73,0.534],[7.98,0.59],[8.26,0.504],[7.9,0.48],[6.95,0.482],[6.73,0.534]],
[[8.47,0.6],[9.44,0.625],[9.6,0.56],[8.7,0.555]],
[[13.34,0.433],[13.97,0.425],[14.32,0.438],[17.2,0.45],[19.96,0.46]],
[[4.09,0.311],[5.34,0.322],[7.5,0.347],[9.58,0.377],[10.97,0.37],[12.92,0.362],[13.06,0.347],[14.24,0.403],[17.2,0.418],[19.96,0.433]],
[[4.02,0.291],[5.41,0.296],[7.36,0.319],[8.89,0.349],[10.97,0.357],[12.78,0.337],[14.73,0.382],[17.2,0.403],[19.96,0.403]],
[[4.02,0.261],[5.83,0.286],[7.64,0.301],[8.89,0.342],[10.97,0.342],[13.06,0.327],[15.15,0.387],[16.26,0.382],[17.79,0.337],[19.04,0.367],[19.96,0.37]],
[[3.88,0.243],[5.83,0.263],[7.5,0.273],[8.6,0.309],[10.97,0.329],[13.06,0.319],[15.08,0.377],[17.51,0.309],[16.54,0.23]],
[[3.88,0.225],[6.38,0.238],[8.05,0.276],[9.17,0.311],[11.95,0.306],[11.46,0.273],[11.67,0.25],[13.62,0.233],[14.87,0.233]],
[[6.5,0.235],[8,0.19],[8.9,0.225],[10.3,0.245],[12,0.23],[13.8,0.22],[15.2,0.22]],
[[16.4,0.22],[17.93,0.235],[19.96,0.233]],
[[16.4,0.21],[17.93,0.215],[19.96,0.21]],
[[16.26,0.195],[17.93,0.19],[19.96,0.18]],
[[16.26,0.225],[17.79,0.276],[18.9,0.296],[19.96,0.281]],
[[10.28,0.205],[13.06,0.21],[15.15,0.203]],
[[9.2,0.21],[10.28,0.205],[12.5,0.18],[14.7,0.17]],
[[4.65,0.167],[6.66,0.159],[6.59,0.119],[5.14,0.083]],
[[4.9,0.2],[6.9,0.175],[7,0.105],[5.3,0.07]],
[[4.4,0.21],[6.4,0.2],[7.4,0.155],[7.3,0.09],[5.5,0.055]],
[[3.38,0.233],[4.3,0.17]],
[[3.47,0.233],[4.38,0.17]],
[[3.56,0.233],[4.45,0.17]],
[[3.65,0.233],[4.52,0.168]],
[[3.74,0.232],[4.6,0.165]],
[[3.82,0.231],[4.68,0.164]],
[[3.9,0.231],[4.75,0.163]],
[[3.97,0.229],[4.82,0.163]],
[[4.04,0.226],[4.9,0.162]],
[[4.18,0.22],[5,0.165]],
[[3.26,0.233],[4.1,0.21]],
[[3.3,0.225],[4,0.205]],
[[3.3,0.215],[3.9,0.195]],
[[3.3,0.158],[4.5,0.135],[4.7,0.16]],
[[3.2,0.153],[4.35,0.12],[4.9,0.16]],
[[3.3,0.15],[4.45,0.128],[4.8,0.16]],
[[3.2,0.145],[4.25,0.108],[4.95,0.15]],
[[3.15,0.135],[4.1,0.1],[4.9,0.13]],
[[3.3,0.125],[4.1,0.09],[4.6,0.11]],
[[3.2,0.11],[4.05,0.08]],
[[3.2,0.13],[4.15,0.095]],
[[3.2,0.12],[4.1,0.085]],
[[2.9,0.115],[4.2,0.06],[4.6,0.013]],
[[2.95,0.1],[3.9,0.045],[4.2,0.013]],
[[0,0.23],[1.1,0.16]],
[[0.25,0.23],[1.3,0.16],[1.6,0.09],[1.45,0.013]],
[[0.5,0.235],[1.5,0.16],[1.95,0.09],[1.75,0.013]],
[[0.75,0.25],[1.7,0.16],[2.3,0.09],[2.76,0.013]],
[[1,0.27],[1.9,0.16],[2.5,0.1],[3.2,0.013]],
[[0.1,0.225],[1.2,0.16]],
[[0.35,0.235],[1.4,0.16]],
[[0.62,0.245],[1.6,0.16]],
[[0.88,0.26],[1.8,0.16]],
[[1.05,0.3],[2.4,0.19],[3.2,0.15]],
[[1.3,0.32],[2.7,0.205],[3.4,0.16]],
[[1.6,0.3],[2.6,0.225],[3.2,0.18]],
[[1.6,0.32],[3.03,0.2],[3.38,0.233]],
[[1.3,0.33],[3.03,0.18],[3.56,0.233]],
[[1,0.33],[3.03,0.165],[3.74,0.232]],
[[9.03,0.205],[10.98,0.078],[11.05,0.088],[9.86,0.159],[9.03,0.205]],
[[12.85,0.154],[13.06,0.094],[13.89,0.126],[15.7,0.134],[15.63,0.159]],
[[8.61,0.159],[8.61,0.089],[11.12,0.048],[12.92,0.058]],
[[16.4,0.149],[17.09,0.104],[18.36,0.073],[18.63,0.043]],
[[15.7,0.134],[16.81,0.063],[16.95,0.033]],
[[19.04,0.109],[18.9,0.048],[18.6,0.013]],
[[19.96,0.053],[19.18,0.013]],
[[14.73,0.053],[14.45,0.013]],
[[15.42,0.053],[15.7,0.013]],
[[6.52,0.013],[6.87,0.038],[7.36,0.013]],
[[6.24,0.013],[6.94,0.058],[7.78,0.013]],
[[5.14,0.083],[6.94,0.078],[8.61,0.013]],
[[1.86,0.089],[2.76,0.094],[3.46,0.058],[4.16,0.013]],
[[0.4,0.013],[0.4,0.083],[0.96,0.129]],
[[0.68,0.013],[0.75,0.09],[1.1,0.115]],
[[19.96,0.305],[18.9,0.28],[18,0.345],[17.2,0.38]],
[[15.6,0.37],[16.2,0.33],[16.55,0.29],[16.9,0.2]],
[[0,0.49],[0.3,0.46],[0.9,0.42],[1.4,0.4]],
[[0.28,0.41],[1.2,0.39],[1.75,0.34]]
];
const p4Labels = [[18.4,1.34,'0.9'],[18.75,1.276,'0.85'],[9.78,1.246,'0.95'],[16.01,0.983,'0.75'],[7.95,0.924,'0.8'],[16.53,0.908,'0.7'],[18.84,0.769,'0.6'],[12.67,0.727,'0.65'],[10.09,0.697,'0.75'],[14.59,0.685,'0.6'],[19.02,0.628,'0.7'],[9.04,0.619,'0.6'],[13.81,0.609,'0.6'],[15.08,0.546,'0.75'],[7.37,0.52,'0.6'],[9.42,0.514,'0.7'],[6.03,0.471,'0.6'],[10.76,0.422,'0.75'],[17.93,0.408,'0.55'],[7.31,0.371,'0.7'],[4.41,0.368,'0.6'],[1.78,0.332,'0.65'],[15.81,0.329,'0.5'],[10.94,0.329,'0.5'],[5.25,0.315,'0.7'],[7.84,0.311,'0.6'],[3.41,0.293,'0.65'],[14.05,0.285,'0.45'],[2.65,0.242,'0.8'],[1.05,0.235,'0.75'],[11.32,0.224,'0.4'],[18.86,0.217,'0.25'],[6.1,0.19,'0.75'],[13.96,0.193,'0.2'],[9.22,0.158,'0.3'],[2.7,0.118,'0.95'],[14.81,0.09,'0.25'],[4.37,0.086,'0.35'],[16.95,0.086,'0.3'],[19.22,0.086,'0.15'],[6.53,0.064,'0.35'],[9.4,0.07,'0.3'],[12.63,0.055,'0.25'],[4.5,0.04,'0.4']];

var myChart = echarts.init(document.getElementById('main'));

// frame of each panel in page pixels and the axis range it shows
const frames = [
{left:313,top:154,width:1183,height:1184,xMin:-0.424,xMax:20.46,yMin:-0.03,yMax:1.535},
{left:1703,top:155,width:1182,height:1184,xMin:-0.405,xMax:20.39,yMin:-0.032,yMax:1.536},
{left:320,top:1544,width:1183,height:1184,xMin:-0.405,xMax:20.4,yMin:-0.033,yMax:1.534},
{left:1705,top:1544,width:1182,height:1184,xMin:-0.405,xMax:20.42,yMin:-0.033,yMax:1.534}
];

const LABEL_FONT = 'Liberation Sans';
const SERIF = 'Liberation Serif';
const FRAME_GREY = '#707070';
const grids = [], xAxes = [], yAxes = [], series = [];

function addAxes(i, f){
  grids.push({left:f.left,top:f.top,width:f.width,height:f.height,show:true,borderColor:FRAME_GREY,borderWidth:4,backgroundColor:'#fff'});
  [['bottom',gammaMajor,11,true],['bottom',gammaMinor,6,false],['top',gammaMajor,11,false],['top',gammaMinor,6,false]].forEach(function(a){
    xAxes.push({type:'value',gridIndex:i,position:a[0],min:f.xMin,max:f.xMax,splitLine:{show:false},axisLine:{show:false},
      axisTick:{show:true,inside:true,length:a[2],customValues:a[1],lineStyle:{color:FRAME_GREY,width:3}},
      axisLabel:{show:a[3],customValues:gammaMajor,margin:16,color:'#6b6b6b',fontSize:49,fontFamily:LABEL_FONT}});
  });
  [['left',betaMajor,11,true],['left',betaMinor,6,false],['right',betaMajor,11,false],['right',betaMinor,6,false]].forEach(function(a){
    yAxes.push({type:'value',gridIndex:i,position:a[0],min:f.yMin,max:f.yMax,splitLine:{show:false},axisLine:{show:false},
      axisTick:{show:true,inside:true,length:a[2],customValues:a[1],lineStyle:{color:FRAME_GREY,width:3}},
      axisLabel:{show:a[3],customValues:betaMajor,margin:6,color:'#6b6b6b',fontSize:49,fontFamily:LABEL_FONT,formatter:function(v){return v.toFixed(1);}}});
  });
}

function fill(i, pts, color, z){
  series.push({type:'custom',coordinateSystem:'cartesian2d',xAxisIndex:i*4,yAxisIndex:i*4,silent:true,animation:false,z:z,clip:false,
    data:pts,encode:{x:0,y:1},
    renderItem:function(params,api){
      if(params.dataIndex!==0) return;
      return {type:'polygon',shape:{points:pts.map(function(p){return api.coord(p);})},style:{fill:color}};
    }});
}

function line(i, pts, color, width, dash, z){
  series.push({type:'line',xAxisIndex:i*4,yAxisIndex:i*4,data:pts,symbol:'none',silent:true,animation:false,z:z,clip:false,
    lineStyle:{color:color,width:width,type:dash||'solid',join:'miter',cap:'butt'}});
}

// white underlay, black dashes on top
function dashed(i, pts, width, dash, z){
  line(i,pts,'#fff',width,'solid',z);
  line(i,pts,'#000',width,dash,z+1);
}

function labels(i, pts){
  series.push({type:'scatter',xAxisIndex:i*4,yAxisIndex:i*4,data:pts,symbolSize:1,silent:true,animation:false,z:12,clip:false,
    itemStyle:{color:'transparent'},
    label:{show:true,position:'inside',color:'#000',fontSize:49,fontFamily:LABEL_FONT,formatter:function(p){return p.value[2];}}});
}

frames.forEach(function(f,i){ addAxes(i,f); fill(i,domainBox,'#d9d9d9',2); });

// panel 1
fill(0,p1Dark,'#808080',3);
fill(0,p1Blob,'#808080',3);
fill(0,p1Isle,'#d9d9d9',4);
p1Contours.forEach(function(c){ line(0,c,'#666',4.5,'solid',5); });
line(0,p1Edge,'#000',9,'solid',8);
line(0,p1Blob.concat([p1Blob[0]]),'#000',9,'solid',8);
dashed(0,p1Isle,8,[22,4],8);
dashed(0,domainBox,9,[26,9],9);
line(0,[[frames[0].xMin,tauxLevel],[frames[0].xMax,tauxLevel]],'#333',8,[35,6],10);
labels(0,p1Labels);

// panel 2
fill(1,p2Dark,'#808080',3);
fill(1,p2IsleA,'#d9d9d9',4);
fill(1,p2IsleB,'#d9d9d9',4);
fill(1,p2SpotA,'#000',4);
fill(1,p2SpotB,'#000',4);
p2Contours.forEach(function(c){ line(1,c,'#666',4.5,'solid',5); });
dashed(1,p2Edge,9,[22,5],8);
dashed(1,p2Sliver,9,[26,5],8);
dashed(1,p2IsleA,9,[22,5],8);
line(1,p2IsleB,'#000',9,'solid',8);
dashed(1,domainBox,9,[26,9],9);
labels(1,p2Labels);

// panel 3
fill(2,p3Dark,'#808080',3);
fill(2,p3CornerA,'#808080',3);
fill(2,p3CornerB,'#000',3);
p3Contours.forEach(function(c){ line(2,c,'#666',4.5,'solid',5); });
dashed(2,p3Dark,9,[36,4],8);
dashed(2,p3Spur,9,[22,5],8);
line(2,p3CornerA,'#000',9,'solid',8);
dashed(2,domainBox,9,[26,9],9);
labels(2,p3Labels);

// panel 4
fill(3,p4Dark,'#808080',3);
fill(3,p4Corner,'#808080',3);
p4Contours.forEach(function(c){ line(3,c,'#666',4.5,'solid',5); });
dashed(3,p4Dark,9,[36,4],8);
line(3,p4Corner,'#000',9,'solid',8);
line(3,p4Ring,'#000',9,'solid',8);
dashed(3,domainBox,9,[26,9],9);
line(3,[[frames[3].xMin,tauxLevel],[frames[3].xMax,tauxLevel]],'#333',8,[35,6],10);
labels(3,p4Labels);
series.push({type:'scatter',xAxisIndex:12,yAxisIndex:12,data:[pointF],symbolSize:30,silent:true,animation:false,z:11,itemStyle:{color:'#333'}});
series.push({type:'scatter',xAxisIndex:12,yAxisIndex:12,data:[labelF],symbol:'circle',symbolSize:[78,84],silent:true,animation:false,z:11,
  itemStyle:{color:'#fff',borderColor:'#333',borderWidth:4},
  label:{show:true,position:'inside',formatter:'F',color:'#333',fontSize:62,fontStyle:'italic',fontFamily:SERIF}});

function txt(text,x,y,size,opt){
  opt = opt||{};
  return {type:'text',x:x,y:y,z:20,style:{text:text,fill:opt.color||'#222',fontFamily:SERIF,fontSize:size,fontStyle:opt.italic?'italic':'normal',align:opt.align||'center',verticalAlign:'middle'}};
}
function box(x,y,w,h){
  return [{type:'rect',z:20,shape:{x:x,y:y,width:w,height:h},style:{fill:'#fff',stroke:'#444',lineWidth:2}},
    txt('\u03b7',x+w/2,y+h/2,66,{italic:true})];
}
function taux(x,y,value){
  return [txt('T',x,y,60,{italic:true,align:'left'}),
    txt('aux',x+28,y+20,30,{italic:true,align:'left'}),
    txt(value,x+72,y,60,{align:'left'}),
    txt('T',x+238,y,60,{italic:true,align:'left'}),
    txt('b',x+272,y+20,30,{italic:true,align:'left'})];
}
const graphics = [].concat(
  box(313,36,97,95), box(1702,40,98,94), box(322,1425,97,95), box(1706,1429,97,95),
  txt('\u03b2',224,310,76), txt('\u03b2',1611,310,76), txt('\u03b2',228,1702,76), txt('\u03b2',1615,1700,76),
  txt('\u03b3',1372,1400,70), txt('\u03b3',2762,1400,70), txt('\u03b3',1380,2796,70), txt('\u03b3',2764,2796,70),
  txt('\u03bb=4',2946,784,72,{align:'left'}), txt('\u03bb=6',2946,2132,72,{align:'left'}),
  taux(18,1196,'= 0.16'), taux(2903,2586,'= 0.16'),
  {type:'text',x:793,y:72,z:20,style:{text:'{a|2}{b|b}{a| = 0.8m}',fill:'#222',verticalAlign:'middle',rich:{a:{fontFamily:SERIF,fontSize:72,fill:'#222'},b:{fontFamily:SERIF,fontSize:72,fontStyle:'italic',fill:'#222'}}}},
  {type:'text',x:2161,y:72,z:20,style:{text:'{a|2}{b|b}{a| = 1.2m}',fill:'#222',verticalAlign:'middle',rich:{a:{fontFamily:SERIF,fontSize:72,fill:'#222'},b:{fontFamily:SERIF,fontSize:72,fontStyle:'italic',fill:'#222'}}}}
);

myChart.setOption({
  backgroundColor:'#fff',
  animation:false,
  grid:grids,
  xAxis:xAxes,
  yAxis:yAxes,
  series:series,
  graphic:graphics
});
</script>
</body>
</html>
